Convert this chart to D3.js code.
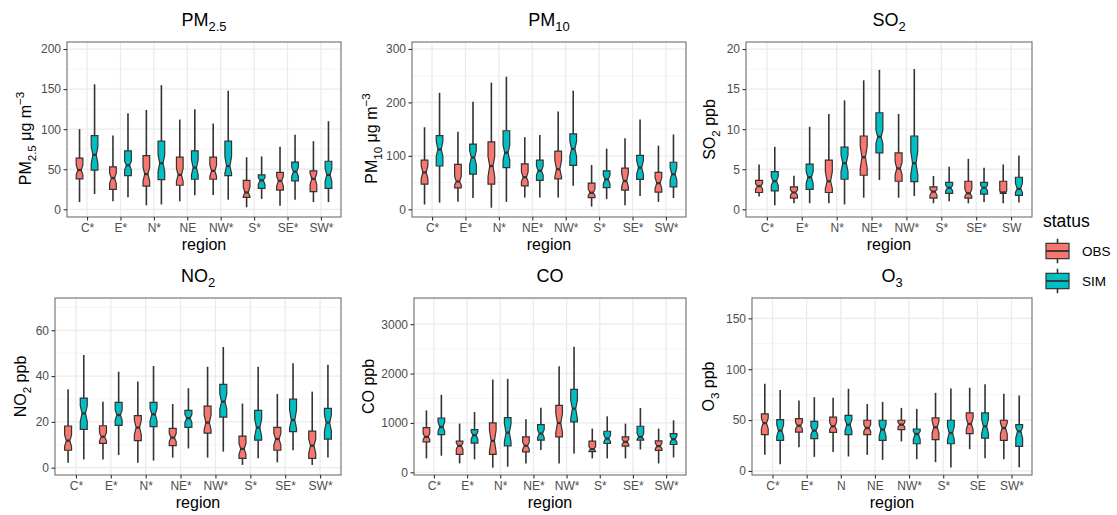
<!DOCTYPE html>
<html>
<head>
<meta charset="utf-8">
<script src="https://cdn.jsdelivr.net/npm/d3@7"></script>
<style>
  html, body { margin: 0; padding: 0; background: #ffffff; }
  svg { display: block; font-family: "Liberation Sans", Arial, Helvetica, sans-serif; }
</style>
</head>
<body>
<script>
// Box statistics per region: [lower whisker, Q1, median, Q3, upper whisker, notch low, notch high]
const seriesNames = ["OBS", "SIM"];
const seriesColors = ["#F8766D", "#00BFC4"];

const pm25Regions = ["C*", "E*", "N*", "NE", "NW*", "S*", "SE*", "SW*"];
const pm25Obs = [
  [9, 38, 49, 64, 100, 43, 55],
  [10, 25, 39, 53, 92, 32, 45],
  [5, 29, 44, 67, 124, 35, 53],
  [10, 30, 43, 65, 112, 35, 51],
  [18, 37.5, 48, 65, 107, 41, 55],
  [2.5, 15, 21, 36, 65, 16, 28],
  [4.5, 24, 35.5, 46, 78, 29, 41],
  [9, 22, 38, 48, 85, 31, 45]
];
const pm25Sim = [
  [19, 49, 68, 92, 156, 57, 78],
  [15, 42, 55, 73, 120, 49, 60],
  [6, 37, 57.5, 85, 155, 47, 68],
  [17.5, 37.5, 52, 73, 125, 43, 62],
  [12, 42, 54, 85, 148, 45, 66],
  [13, 26, 36, 43, 66, 31, 40],
  [12, 35.5, 47, 59, 93, 41, 53],
  [9, 26, 43, 60, 110, 35, 51]
];

const pm10Regions = ["C*", "E*", "N*", "NE*", "NW*", "S*", "SE*", "SW*"];
const pm10Obs = [
  [9, 47, 69, 92, 153.5, 58, 81],
  [14, 40, 52, 84, 145, 45, 62],
  [3, 47, 81, 126, 237, 61, 99],
  [22, 44, 60, 85, 135, 52, 70],
  [22, 57, 75, 109, 183, 61, 92],
  [5, 22, 31, 49, 83, 26, 38],
  [7.5, 36, 53, 77, 133, 42, 67],
  [14, 32, 49, 69, 119, 39, 59]
];
const pm10Sim = [
  [12.5, 81, 112, 138, 218, 99, 127],
  [21, 66, 97, 122, 201, 83, 110],
  [14, 78, 106, 147, 248, 92, 120],
  [22, 54, 72, 92, 139, 64, 81],
  [44, 82, 113, 141, 222, 99, 127],
  [19, 40.5, 56, 72, 113.5, 47, 64],
  [25, 56, 78, 101, 168, 66, 91],
  [21, 42, 65.5, 88, 140, 55, 78]
];

const so2Regions = ["C*", "E*", "N*", "NE*", "NW*", "S*", "SE*", "SW"];
const so2Obs = [
  [1.6, 2.1, 2.9, 3.6, 5.6, 2.5, 3.2],
  [0.75, 1.4, 2.1, 2.8, 4.2, 1.75, 2.4],
  [0.75, 2.1, 3.5, 6.15, 11.9, 2.6, 4.7],
  [1.45, 4.25, 6.5, 9.15, 16.1, 5.1, 7.9],
  [1.45, 3.5, 5.1, 7.05, 11.9, 4.3, 5.9],
  [0.75, 1.4, 2.2, 2.8, 4.15, 1.75, 2.5],
  [0.75, 1.4, 2.0, 3.5, 6.3, 1.6, 2.55],
  [0.75, 2.0, 2.1, 3.5, 5.6, 2.0, 2.3]
];
const so2Sim = [
  [0.5, 2.3, 3.5, 4.7, 7.8, 3.0, 4.1],
  [0.75, 2.5, 4.0, 5.65, 10.3, 3.25, 4.7],
  [0.6, 3.75, 5.75, 7.75, 13.6, 4.7, 6.8],
  [3.65, 7.05, 9.05, 12.05, 17.4, 8.2, 9.9],
  [1.65, 3.45, 5.75, 9.15, 17.5, 4.3, 7.2],
  [1.0, 2.0, 2.7, 3.35, 5.3, 2.3, 3.0],
  [0.9, 1.9, 2.7, 3.35, 5.2, 2.3, 3.0],
  [0.85, 1.75, 2.55, 4.0, 6.7, 2.1, 3.25]
];

const no2Regions = ["C*", "E*", "N*", "NE*", "NW*", "S*", "SE*", "SW*"];
const no2Obs = [
  [2.2, 7.6, 11.8, 18.2, 34.2, 9.2, 14.3],
  [3.6, 10.6, 13.5, 18.3, 28.8, 11.6, 15.3],
  [2.2, 11.8, 17.5, 22.7, 37.6, 14.3, 20.8],
  [4.4, 9.6, 13.1, 17.2, 27.8, 11.4, 15],
  [4.4, 15.1, 19.7, 26.9, 44.1, 16.5, 23],
  [1.2, 4.1, 8.2, 13.8, 28, 5.8, 10.6],
  [2.3, 7.6, 12.5, 17.6, 32.2, 9.9, 15],
  [1.2, 4.1, 9.6, 16, 33.2, 6.3, 12.5]
];
const no2Sim = [
  [3.6, 16.7, 23.7, 30.4, 49.2, 20.1, 27.1],
  [5.5, 18.5, 23, 28.5, 41.9, 20.8, 25.2],
  [3.1, 17.9, 23.3, 28.5, 44.4, 20.4, 25.9],
  [8.4, 17.6, 21.6, 25, 34.7, 19.7, 23.3],
  [7, 22.1, 28.8, 36.4, 52.7, 25.5, 32.2],
  [4.1, 12, 17.5, 25, 44.1, 13.5, 21.3],
  [7.6, 15.7, 20.8, 29.9, 45.6, 17.2, 25.2],
  [4.4, 12.5, 19.7, 25.9, 44.9, 16, 23]
];

const coRegions = ["C*", "E*", "N*", "NE*", "NW*", "S*", "SE*", "SW*"];
const coObs = [
  [282, 617, 718, 906, 1255, 664, 785],
  [181, 362, 537, 631, 987, 470, 597],
  [94, 362, 638, 1000, 1879, 416, 852],
  [181, 416, 537, 718, 1074, 463, 617],
  [181, 718, 1000, 1356, 2148, 805, 1188],
  [282, 420, 470, 631, 886, 430, 520],
  [282, 530, 617, 718, 987, 564, 671],
  [181, 443, 530, 638, 886, 477, 597]
];
const coSim = [
  [336, 765, 919, 1100, 1570, 832, 1020],
  [262, 591, 752, 866, 1221, 671, 819],
  [114, 537, 805, 1107, 1893, 617, 987],
  [450, 651, 785, 966, 1309, 705, 866],
  [383, 1020, 1289, 1678, 2544, 1087, 1456],
  [282, 584, 685, 832, 1134, 617, 752],
  [463, 651, 718, 933, 1302, 665, 790],
  [302, 564, 671, 785, 1054, 611, 732]
];

const o3Regions = ["C*", "E*", "N", "NE", "NW*", "S*", "SE", "SW*"];
const o3Obs = [
  [15.8, 35.6, 47, 56, 85.7, 41.5, 52],
  [23.4, 38.2, 44.5, 51.4, 69.2, 41.2, 47.8],
  [18.5, 37.9, 43.9, 52.8, 71.9, 40.6, 47.8],
  [15.8, 35.6, 42.2, 49.8, 65.9, 38.9, 45.5],
  [29, 40.6, 45.5, 49.8, 62, 42.9, 47.8],
  [8.6, 30.7, 42.9, 52.1, 76.8, 37.3, 48.8],
  [21.4, 36.6, 46.2, 57, 81.8, 40.6, 52.1],
  [11.5, 30, 42.2, 49.8, 75.8, 36.3, 47.1]
];
const o3Sim = [
  [6.6, 30, 39.6, 50.4, 79.5, 34, 45.5],
  [13.8, 31.7, 39.6, 48.8, 72.5, 35.6, 43.9],
  [14.2, 35.6, 45.5, 54.7, 80.8, 39.6, 50.4],
  [10.9, 30, 40.6, 49.8, 67.9, 34, 45.5],
  [11.5, 26.7, 36.3, 41.2, 61, 30.7, 38.9],
  [3.3, 26.7, 37.3, 49.8, 81.1, 30.7, 43.9],
  [12.5, 32.3, 43.9, 57, 85.1, 36.3, 51.1],
  [3.6, 24.1, 38.9, 45.5, 74.2, 32.3, 42.9]
];

// Axis limits and tick values
const pm25Limits = [-9.6, 208.8], pm25Ticks = [0, 50, 100, 150, 200];
const pm10Limits = [-14.4, 313], pm10Ticks = [0, 100, 200, 300];
const so2Limits = [-0.96, 20.88], so2Ticks = [0, 5, 10, 15, 20];
const no2Limits = [-3.2, 74.1], no2Ticks = [0, 20, 40, 60];
const coLimits = [-54, 3530], coTicks = [0, 1000, 2000, 3000];
const o3Limits = [-4, 170], o3Ticks = [0, 50, 100, 150];

// Rich-text pieces: plain, subscript (sub) or superscript (sup)
const pm25Title = [{t: "PM"}, {t: "2.5", sub: true}];
const pm10Title = [{t: "PM"}, {t: "10", sub: true}];
const so2Title = [{t: "SO"}, {t: "2", sub: true}];
const no2Title = [{t: "NO"}, {t: "2", sub: true}];
const coTitle = [{t: "CO"}];
const o3Title = [{t: "O"}, {t: "3", sub: true}];
const pm25YLabel = [{t: "PM"}, {t: "2.5", sub: true}, {t: " μg m"}, {t: "−3", sup: true}];
const pm10YLabel = [{t: "PM"}, {t: "10", sub: true}, {t: " μg m"}, {t: "−3", sup: true}];
const so2YLabel = [{t: "SO"}, {t: "2", sub: true}, {t: " ppb"}];
const no2YLabel = [{t: "NO"}, {t: "2", sub: true}, {t: " ppb"}];
const coYLabel = [{t: "CO ppb"}];
const o3YLabel = [{t: "O"}, {t: "3", sub: true}, {t: " ppb"}];
const xLabel = "region";
const legendTitle = "status";

const W = 1117, H = 515;
const svg = d3.select("body").append("svg").attr("width", W).attr("height", H);

function richText(sel, parts, size) {
  let shift = 0;
  parts.forEach(p => {
    const target = p.sub ? size * 0.3 : p.sup ? -size * 0.42 : 0;
    const ts = sel.append("tspan").text(p.t).attr("dy", target - shift);
    if (p.sub || p.sup) ts.attr("font-size", size * 0.72);
    shift = target;
  });
}

function drawPanel(cfg) {
  const g = svg.append("g");
  const x = d3.scalePoint().domain(cfg.regions).range([cfg.left, cfg.right]).padding(0.6);
  const y = d3.scaleLinear().domain(cfg.limits).range([cfg.bottom, cfg.top]);
  const step = x.step();

  g.append("rect").attr("x", cfg.left).attr("y", cfg.top)
    .attr("width", cfg.right - cfg.left).attr("height", cfg.bottom - cfg.top)
    .attr("fill", "#ffffff");

  // minor grid lines halfway between major ticks
  const dt = cfg.ticks[1] - cfg.ticks[0];
  const minor = d3.range(cfg.ticks[0] - dt / 2, cfg.limits[1], dt)
    .filter(v => v > cfg.limits[0] && v < cfg.limits[1]);
  g.selectAll(".minor").data(minor).join("line")
    .attr("x1", cfg.left).attr("x2", cfg.right)
    .attr("y1", d => y(d)).attr("y2", d => y(d))
    .attr("stroke", "#F2F2F2").attr("stroke-width", 0.8);
  g.selectAll(".major").data(cfg.ticks).join("line")
    .attr("x1", cfg.left).attr("x2", cfg.right)
    .attr("y1", d => y(d)).attr("y2", d => y(d))
    .attr("stroke", "#EBEBEB").attr("stroke-width", 1.3);
  g.selectAll(".vmajor").data(cfg.regions).join("line")
    .attr("x1", d => x(d)).attr("x2", d => x(d))
    .attr("y1", cfg.top).attr("y2", cfg.bottom)
    .attr("stroke", "#EBEBEB").attr("stroke-width", 1.3);

  // boxes, dodged per series
  const boxW = step * 0.2;
  const dodge = [-0.225 * step, 0.225 * step];
  [cfg.obs, cfg.sim].forEach((rows, si) => {
    const sg = g.append("g");
    rows.forEach((r, i) => {
      const [lo, q1, med, q3, hi, nlo, nhi] = r;
      const cx = x(cfg.regions[i]) + dodge[si];
      const x0 = cx - boxW / 2, x1 = cx + boxW / 2, ind = boxW / 4;
      sg.append("line").attr("x1", cx).attr("x2", cx).attr("y1", y(q3)).attr("y2", y(hi))
        .attr("stroke", "#333333").attr("stroke-width", 1.6);
      sg.append("line").attr("x1", cx).attr("x2", cx).attr("y1", y(q1)).attr("y2", y(lo))
        .attr("stroke", "#333333").attr("stroke-width", 1.6);
      const pts = [
        [x0, y(q3)], [x0, y(nhi)], [x0 + ind, y(med)], [x0, y(nlo)], [x0, y(q1)],
        [x1, y(q1)], [x1, y(nlo)], [x1 - ind, y(med)], [x1, y(nhi)], [x1, y(q3)]
      ];
      sg.append("path").attr("d", d3.line()(pts) + "Z")
        .attr("fill", seriesColors[si]).attr("stroke", "#333333")
        .attr("stroke-width", 1.2).attr("stroke-linejoin", "miter");
      sg.append("line").attr("x1", x0 + ind).attr("x2", x1 - ind)
        .attr("y1", y(med)).attr("y2", y(med))
        .attr("stroke", "#333333").attr("stroke-width", 2.3);
    });
  });

  g.append("rect").attr("x", cfg.left).attr("y", cfg.top)
    .attr("width", cfg.right - cfg.left).attr("height", cfg.bottom - cfg.top)
    .attr("fill", "none").attr("stroke", "#6E6E6E").attr("stroke-width", 1.1);

  // axes
  const ya = g.append("g").attr("transform", `translate(${cfg.left},0)`)
    .call(d3.axisLeft(y).tickValues(cfg.ticks).tickSize(3.5).tickPadding(2.5).tickFormat(d3.format("d")));
  const xa = g.append("g").attr("transform", `translate(0,${cfg.bottom})`)
    .call(d3.axisBottom(x).tickSize(3.5).tickPadding(2.5));
  [ya, xa].forEach(a => {
    a.select(".domain").remove();
    a.selectAll(".tick line").attr("stroke", "#333333").attr("stroke-width", 1.1);
    a.selectAll(".tick text").attr("fill", "#4D4D4D").attr("font-size", 12)
      .attr("font-family", "Liberation Sans, Arial, sans-serif");
  });

  // plot title
  const cxp = (cfg.left + cfg.right) / 2;
  richText(g.append("text").attr("x", cxp).attr("y", cfg.titleY)
    .attr("text-anchor", "middle").attr("font-size", 18).attr("fill", "#000"), cfg.title, 18);
  // x axis title
  g.append("text").attr("x", cxp).attr("y", cfg.bottom + 33).attr("text-anchor", "middle")
    .attr("font-size", 16).attr("fill", "#000").text(xLabel);
  // y axis title
  richText(g.append("text")
    .attr("transform", `translate(${cfg.yTitleX},${(cfg.top + cfg.bottom) / 2 + cfg.yTitleShift}) rotate(-90)`)
    .attr("text-anchor", "middle").attr("font-size", 16).attr("fill", "#000"), cfg.yLabel, 16);
}

drawPanel({regions: pm25Regions, obs: pm25Obs, sim: pm25Sim, limits: pm25Limits, ticks: pm25Ticks,
  title: pm25Title, yLabel: pm25YLabel, left: 67, right: 341, top: 42, bottom: 217,
  titleY: 26, yTitleX: 31, yTitleShift: 9});
drawPanel({regions: pm10Regions, obs: pm10Obs, sim: pm10Sim, limits: pm10Limits, ticks: pm10Ticks,
  title: pm10Title, yLabel: pm10YLabel, left: 412, right: 686, top: 42, bottom: 217,
  titleY: 26, yTitleX: 377, yTitleShift: 9});
drawPanel({regions: so2Regions, obs: so2Obs, sim: so2Sim, limits: so2Limits, ticks: so2Ticks,
  title: so2Title, yLabel: so2YLabel, left: 746, right: 1032, top: 42, bottom: 217,
  titleY: 26, yTitleX: 715, yTitleShift: 0});
drawPanel({regions: no2Regions, obs: no2Obs, sim: no2Sim, limits: no2Limits, ticks: no2Ticks,
  title: no2Title, yLabel: no2YLabel, left: 55, right: 341, top: 298, bottom: 475,
  titleY: 282, yTitleX: 26, yTitleShift: 0});
drawPanel({regions: coRegions, obs: coObs, sim: coSim, limits: coLimits, ticks: coTicks,
  title: coTitle, yLabel: coYLabel, left: 414, right: 686, top: 298, bottom: 475,
  titleY: 282, yTitleX: 374, yTitleShift: 0});
drawPanel({regions: o3Regions, obs: o3Obs, sim: o3Sim, limits: o3Limits, ticks: o3Ticks,
  title: o3Title, yLabel: o3YLabel, left: 752, right: 1032, top: 298, bottom: 475,
  titleY: 282, yTitleX: 714, yTitleShift: 0});

// legend
const lg = svg.append("g");
lg.append("text").attr("x", 1043).attr("y", 227).attr("font-size", 17.5).attr("fill", "#000").text(legendTitle);
const keyS = 30.7, keyCx = 1057.5;
seriesNames.forEach((name, i) => {
  const cy = 251 + i * 30;
  const k = lg.append("g");
  k.append("line").attr("x1", keyCx).attr("x2", keyCx).attr("y1", cy - 0.4 * keyS).attr("y2", cy + 0.4 * keyS)
    .attr("stroke", "#333333").attr("stroke-width", 1.6);
  k.append("rect").attr("x", keyCx - 0.375 * keyS).attr("y", cy - 0.25 * keyS)
    .attr("width", 0.75 * keyS).attr("height", 0.5 * keyS)
    .attr("fill", seriesColors[i]).attr("stroke", "#333333").attr("stroke-width", 1.2);
  k.append("line").attr("x1", keyCx - 0.375 * keyS).attr("x2", keyCx + 0.375 * keyS)
    .attr("y1", cy).attr("y2", cy).attr("stroke", "#333333").attr("stroke-width", 1.8);
  lg.append("text").attr("x", 1082).attr("y", cy).attr("dy", "0.35em")
    .attr("font-size", 13.5).attr("fill", "#000").text(name);
});
</script>
</body>
</html>
